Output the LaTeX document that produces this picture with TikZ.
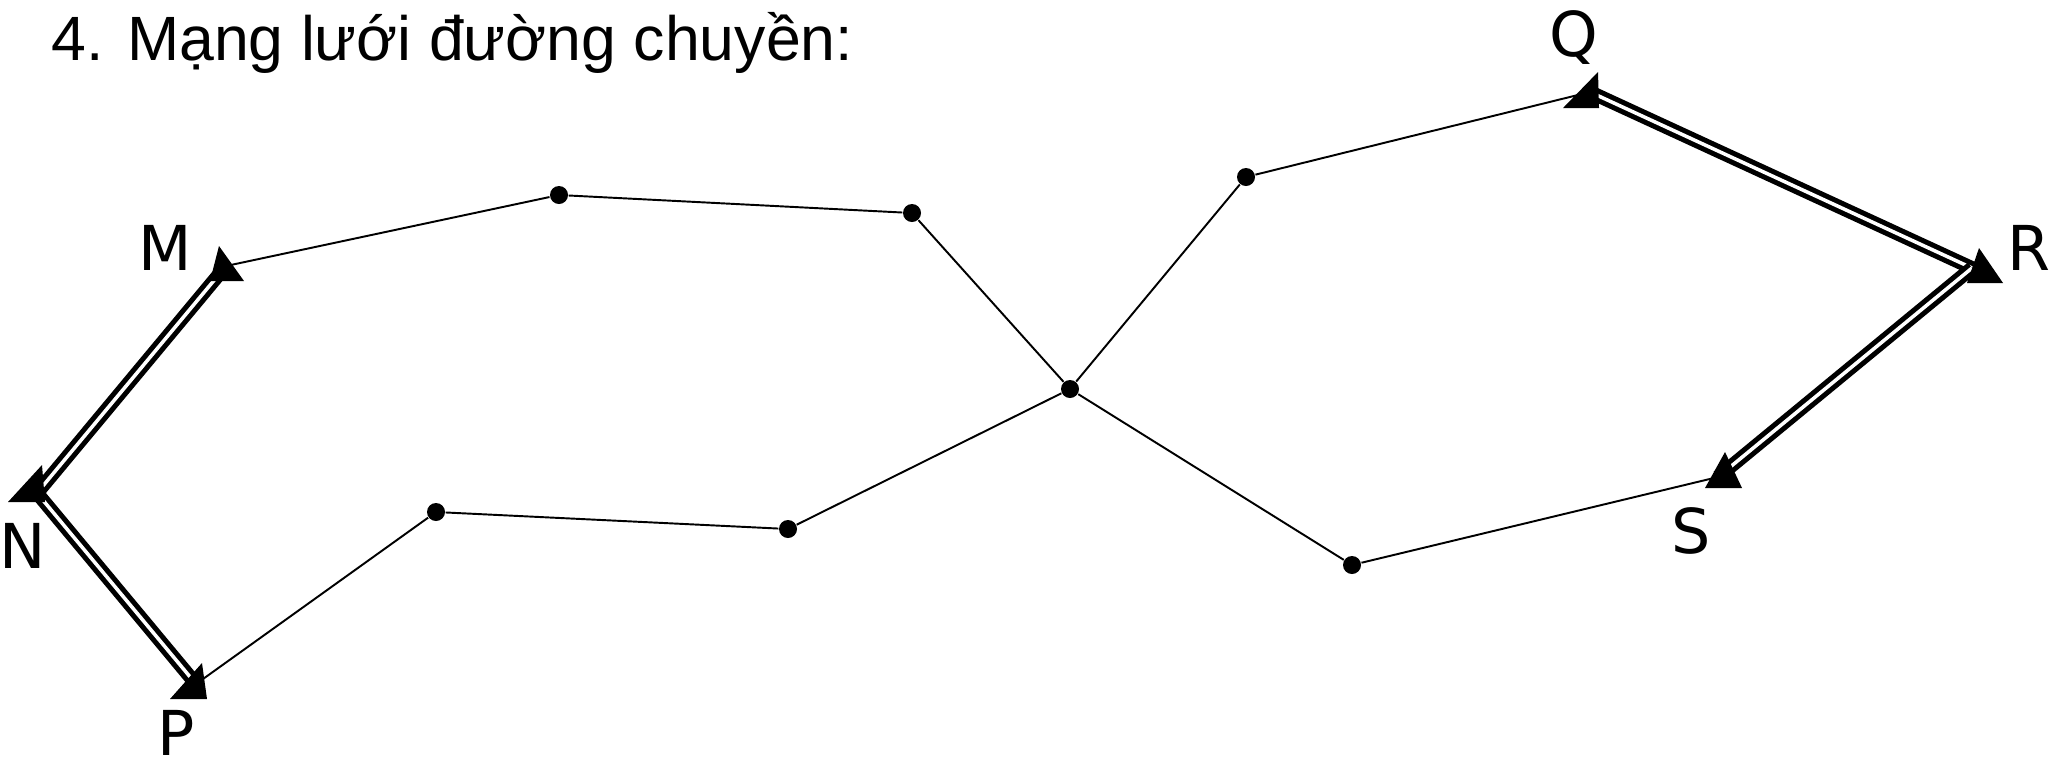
\documentclass[tikz,border=0pt]{standalone}
\usepackage{fontspec}
\setmainfont{Liberation Sans}
\newfontfamily\chuNhan{DejaVu Sans}
\usetikzlibrary{positioning}
\tikzset{
  diem/.style={circle, fill=black, inner sep=0pt, minimum size=0.18cm},
  duong/.style={draw=black, line width=0.55pt},
  duongKep/.style={draw=black, double=white, double distance=1pt,
    line width=1.45pt},
  nhan/.style={anchor=base west, inner sep=0pt, font=\chuNhan\fontsize{17.6}{20}\selectfont},
  tieuDe/.style={anchor=base west, inner sep=0pt, font=\fontsize{17.8}{20}\selectfont}
}

\begin{document}
\begin{tikzpicture}[x=0.01cm, y=-0.01cm]
  \useasboundingbox (0,0) rectangle (2049,763);

  \node[tieuDe] (tieude) at (51,60) {4. Mạng lưới đường chuyền:};

  % --- cac diem khong che (dau mui ten)
  \coordinate (M) at (226,266);
  \coordinate (N) at (37,493);
  \coordinate (P) at (196,684);
  \coordinate (Q) at (1590,92);
  \coordinate (R) at (1972,268);
  \coordinate (S) at (1718,477);

  % --- cac diem duong chuyen
  \node[diem] (d1) at (559,195) {};
  \node[diem] (d2) at (912,213) {};
  \node[diem] (d0) at (1070,389) {};
  \node[diem] (d3) at (1246,177) {};
  \node[diem] (d4) at (436,512) {};
  \node[diem] (d5) at (788,529) {};
  \node[diem] (d6) at (1352,565) {};

  % --- canh goc (net doi)
  \foreach \a/\b in {M/N, N/P, Q/R, R/S}
    \draw[duongKep] (\a) -- (\b);

  % --- duong chuyen
  \draw[duong] (M) -- (d1) -- (d2) -- (d0);
  \draw[duong] (d0) -- (d3) -- (Q);
  \draw[duong] (d0) -- (d5) -- (d4) -- (P);
  \draw[duong] (d0) -- (d6) -- (S);

  % --- tam giac danh dau diem goc
  \foreach \p/\xl/\xr/\xa/\yb/\ya in {M/-16/18/-7/15/-20, N/-29/8/5/9/-28,
      P/-26/11/6/15/-21, Q/-27/9/8/16/-20, R/-5/31/7/15/-20, S/-13/24/7/11/-25}
    \fill[black, shift={(\p)}] (\xl,\yb) -- (\xr,\yb) -- (\xa,\ya) -- cycle;

  % --- ten diem
  \node[nhan] (nM) at (138,270) {M};
  \node[nhan] (nN) at (-1,568) {N};
  \node[nhan] (nP) at (157,755) {P};
  \node[nhan] (nQ) at (1549,56) {Q};
  \node[nhan] (nR) at (2007,270) {R};
  \node[nhan] (nS) at (1671,553) {S};

\end{tikzpicture}
\end{document}
